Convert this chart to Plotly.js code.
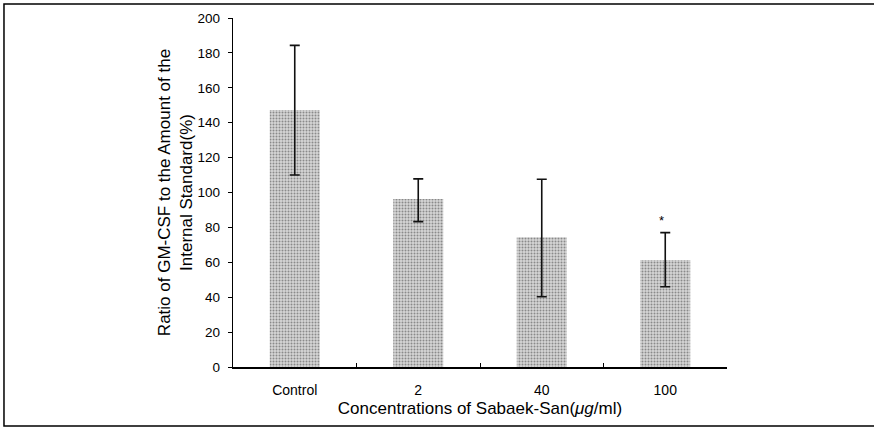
<!DOCTYPE html>
<html>
<head>
<meta charset="utf-8">
<script src="https://cdn.plot.ly/plotly-3.0.1.min.js"></script>
<style>html,body{margin:0;padding:0;background:#fff;}#chart{width:874px;height:427px;}</style>
</head>
<body>
<div id="chart"></div>
<script>
// Data
const categories = ["Control", "2", "40", "100"];
const meanValues = [147.3, 96.3, 74.3, 61.3];
const errorPlus = [37.0, 11.5, 33.3, 15.7];
const errorMinus = [37.3, 13.0, 34.0, 15.3];
const yTickValues = [0, 20, 40, 60, 80, 100, 120, 140, 160, 180, 200];
const significanceLabels = ["", "", "", "*"];
const significanceY = [null, null, null, 84];

const FONT = "Liberation Sans, Arial, Helvetica, sans-serif";

const bars = {
  type: "bar",
  x: categories,
  y: meanValues,
  marker: {
    color: "#cfcfcf",
    line: {width: 0},
    pattern: {shape: ".", fgcolor: "#8a8a8a", bgcolor: "#d6d6d6", size: 3, solidity: 0.35}
  },
  error_y: {
    type: "data",
    symmetric: false,
    array: errorPlus,
    arrayminus: errorMinus,
    color: "#111",
    thickness: 1.6,
    width: 5
  },
  hoverinfo: "skip",
  showlegend: false
};

const annotations = [];
significanceLabels.forEach((s, i) => {
  if (s) annotations.push({
    x: i, y: significanceY[i], xref: "x", yref: "y", text: s, showarrow: false,
    xshift: -4, font: {family: FONT, size: 13, color: "#000"}
  });
});

const layout = {
  width: 874,
  height: 427,
  margin: {l: 233, r: 147, t: 18, b: 60, pad: 0},
  paper_bgcolor: "#fff",
  plot_bgcolor: "#fff",
  font: {family: FONT, color: "#000", size: 13},
  bargap: 0.595,
  showlegend: false,
  xaxis: {
    type: "category",
    categoryorder: "array",
    categoryarray: categories,
    range: [-0.5, categories.length - 0.5],
    showline: true,
    linecolor: "#000",
    linewidth: 1.5,
    ticks: "inside",
    tickson: "boundaries",
    ticklen: 4,
    tickcolor: "#000",
    showgrid: false,
    zeroline: false,
    ticklabelstandoff: 10,
    tickfont: {family: FONT, size: 14, color: "#000"},
    title: {text: "Concentrations of Sabaek-San(<i>μg</i>/ml)", font: {family: FONT, size: 17, color: "#000"}, standoff: 5},
    automargin: false
  },
  yaxis: {
    range: [0, 200],
    tickvals: yTickValues,
    showline: true,
    linecolor: "#000",
    linewidth: 1.2,
    ticks: "outside",
    ticklen: 4,
    tickcolor: "#000",
    showgrid: false,
    zeroline: false,
    ticklabelstandoff: 5,
    tickfont: {family: FONT, size: 13.5, color: "#000"},
    title: {text: "Ratio of GM-CSF to the Amount of the<br>Internal Standard(%)", font: {family: FONT, size: 17, color: "#000"}, standoff: 0},
    automargin: false
  },
  annotations: annotations,
  shapes: [{
    type: "rect", xref: "paper", yref: "paper",
    x0: -0.4636, x1: 1.31, y0: -0.169, y1: 1.040,
    line: {color: "#000", width: 1.5}, fillcolor: "rgba(0,0,0,0)", layer: "above"
  }]
};

Plotly.newPlot("chart", [bars], layout, {staticPlot: true, displayModeBar: false});
</script>
</body>
</html>
